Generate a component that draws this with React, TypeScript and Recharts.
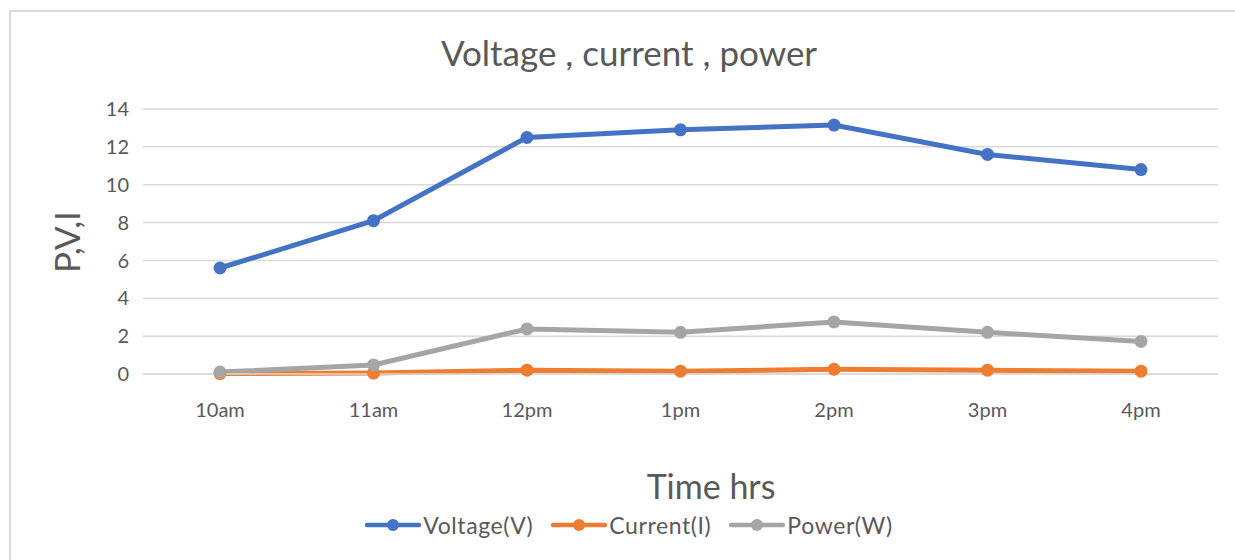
import React from "react";
import { LineChart, Line, XAxis, YAxis, CartesianGrid, Label } from "recharts";

const hours = ["10am", "11am", "12pm", "1pm", "2pm", "3pm", "4pm"];
const voltage = [5.6, 8.1, 12.5, 12.9, 13.15, 11.6, 10.8];
const current = [0.02, 0.05, 0.2, 0.15, 0.25, 0.2, 0.15];
const power = [0.1, 0.48, 2.38, 2.2, 2.75, 2.2, 1.72];
const yTicks = [0, 2, 4, 6, 8, 10, 12, 14];

const rows = hours.map((h, i) => ({
  hour: h,
  voltage: voltage[i],
  current: current[i],
  power: power[i],
}));

const series = [
  { key: "voltage", name: "Voltage(V)", color: "#4472C4" },
  { key: "current", name: "Current(I)", color: "#ED7D31" },
  { key: "power", name: "Power(W)", color: "#A5A5A5" },
];

const FONT = "Lato, 'Noto Sans', sans-serif";
const TXT = "#595959";

function LegendItem({ name, color }: { name: string; color: string }) {
  return (
    <div style={{ display: "flex", alignItems: "center", marginRight: 18 }}>
      <svg width={56} height={14}>
        <line x1={2} y1={7} x2={54} y2={7} stroke={color} strokeWidth={4.5} strokeLinecap="round" />
        <circle cx={28} cy={7} r={6} fill={color} />
      </svg>
      <span style={{ fontSize: 23, letterSpacing: 0.6, color: TXT, marginLeft: 2 }}>{name}</span>
    </div>
  );
}

export default function App() {
  return (
    <div style={{ position: "absolute", left: 0, top: 0, width: 1235, height: 560, background: "#fff", fontFamily: FONT, overflow: "hidden" }}>
      <div style={{ position: "absolute", left: 9, top: 10, width: 1300, height: 600, borderLeft: "2px solid #d9d9d9", borderTop: "2px solid #d9d9d9" }} />
      <div style={{ position: "absolute", left: 0, top: 31, width: 1258, textAlign: "center", fontSize: 35, color: TXT }}>
        Voltage , current , power
      </div>
      <div style={{ position: "absolute", left: 0, top: 0 }}>
        <LineChart width={1235} height={560} data={rows} margin={{ top: 109, right: 17, left: 0, bottom: 0 }}>
          <CartesianGrid vertical={false} stroke="#d9d9d9" strokeWidth={1.5} />
          <XAxis
            dataKey="hour"
            height={186}
            padding={{ left: 77, right: 77 }}
            axisLine={{ stroke: "#d9d9d9", strokeWidth: 1.5 }}
            tickLine={false}
            tickMargin={23}
            tick={{ fontSize: 20, fill: TXT, fontFamily: FONT }}
          >
            <Label
              content={() => (
                <text x={711} y={499} textAnchor="middle" fontSize={34} fill={TXT} fontFamily={FONT}>
                  Time hrs
                </text>
              )}
            />
          </XAxis>
          <YAxis
            width={143}
            domain={[0, 14]}
            ticks={yTicks}
            axisLine={false}
            tickLine={false}
            tickMargin={8}
            tick={{ fontSize: 20, fill: TXT, fontFamily: FONT }}
          >
            <Label
              content={() => (
                <text x={80} y={242} transform="rotate(-90 80 242)" textAnchor="middle" fontSize={35} fill={TXT} fontFamily={FONT}>
                  P,V,I
                </text>
              )}
            />
          </YAxis>
          {series.map((s) => (
            <Line
              key={s.key}
              dataKey={s.key}
              name={s.name}
              stroke={s.color}
              strokeWidth={5}
              dot={{ r: 6.5, fill: s.color, stroke: s.color, strokeWidth: 0 }}
              isAnimationActive={false}
            />
          ))}
        </LineChart>
      </div>
      <div style={{ position: "absolute", left: 0, top: 511, width: 1276, display: "flex", justifyContent: "center" }}>
        {series.map((s) => (
          <LegendItem key={s.key} name={s.name} color={s.color} />
        ))}
      </div>
    </div>
  );
}
